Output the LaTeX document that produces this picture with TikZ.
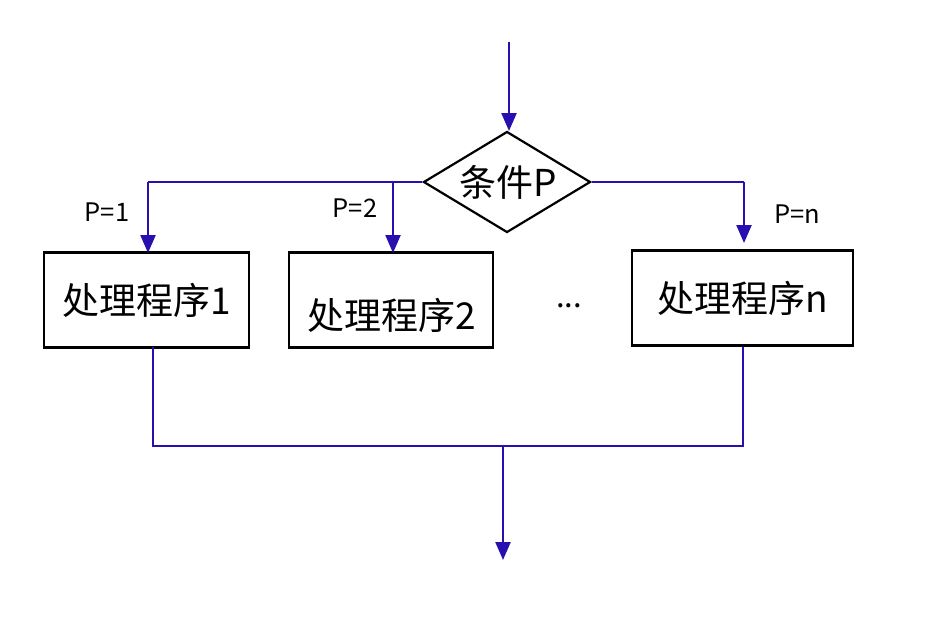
\documentclass[tikz,border=0pt]{standalone}
\usepackage{fontspec}
\setmainfont{Noto Sans CJK SC}
\usetikzlibrary{arrows.meta,shapes.geometric}
\definecolor{flow}{RGB}{40,16,176}
\tikzset{
  proc/.style={draw=black,line width=2.2pt,minimum width=#1,minimum height=95pt,inner sep=0pt},
  big/.style={font=\fontsize{37}{42}\selectfont,inner sep=0pt},
  small/.style={font=\fontsize{25.5}{28}\selectfont,inner sep=0pt},
  conn/.style={draw=flow,line width=2.3pt},
  arr/.style={conn,-{Triangle[length=18pt,width=15pt]}},
}
\begin{document}
\begin{tikzpicture}[x=1pt,y=-1pt]
\useasboundingbox (0,0) rectangle (949,622);
% decision
\node[diamond,draw=black,line width=2.2pt,minimum width=167pt,minimum height=101pt,inner sep=0pt] (dia) at (507,182) {};
\node[big] (diat) at (508,182) {条件P};
% boxes
\node[proc=205pt] (b1) at (146.5,300) {};
\node[proc=204pt] (b2) at (391,300) {};
\node[proc=221pt] (bn) at (742.5,298) {};
\node[big] (b1t) at (147,300) {处理程序1};
\node[big] (b2t) at (392,315) {处理程序2};
\node[big] (bnt) at (743,298) {处理程序n};
\node[font=\fontsize{31}{34}\selectfont,inner sep=0pt] (dots) at (569,306) {...};
% labels
\node[small] (l1) at (107,212) {P=1};
\node[small] (l2) at (355,208) {P=2};
\node[small] (ln) at (797,214) {P=n};
% coordinates
\coordinate (top) at (509,42);
\coordinate (dtop) at (509,131);
\coordinate (j1) at (148,182);
\coordinate (t1) at (148,253);
\coordinate (j2) at (393,182);
\coordinate (t2) at (393,253);
\coordinate (jn) at (744,182);
\coordinate (tn) at (744,243);
\coordinate (s1) at (153,347);
\coordinate (sn) at (743,347);
\coordinate (m1) at (153,446);
\coordinate (mn) at (743,446);
\coordinate (mid) at (503,446);
\coordinate (end) at (503,560);
% connectors
\draw[arr] (top) -- (dtop);
\draw[conn] (dia.west) -- (j1);
\draw[arr] (j1) -- (t1);
\draw[arr] (j2) -- (t2);
\draw[conn] (dia.east) -- (jn);
\draw[arr] (jn) -- (tn);
\draw[conn] (s1) -- (m1) -- (mn) -- (sn);
\draw[arr] (mid) -- (end);
\end{tikzpicture}
\end{document}
